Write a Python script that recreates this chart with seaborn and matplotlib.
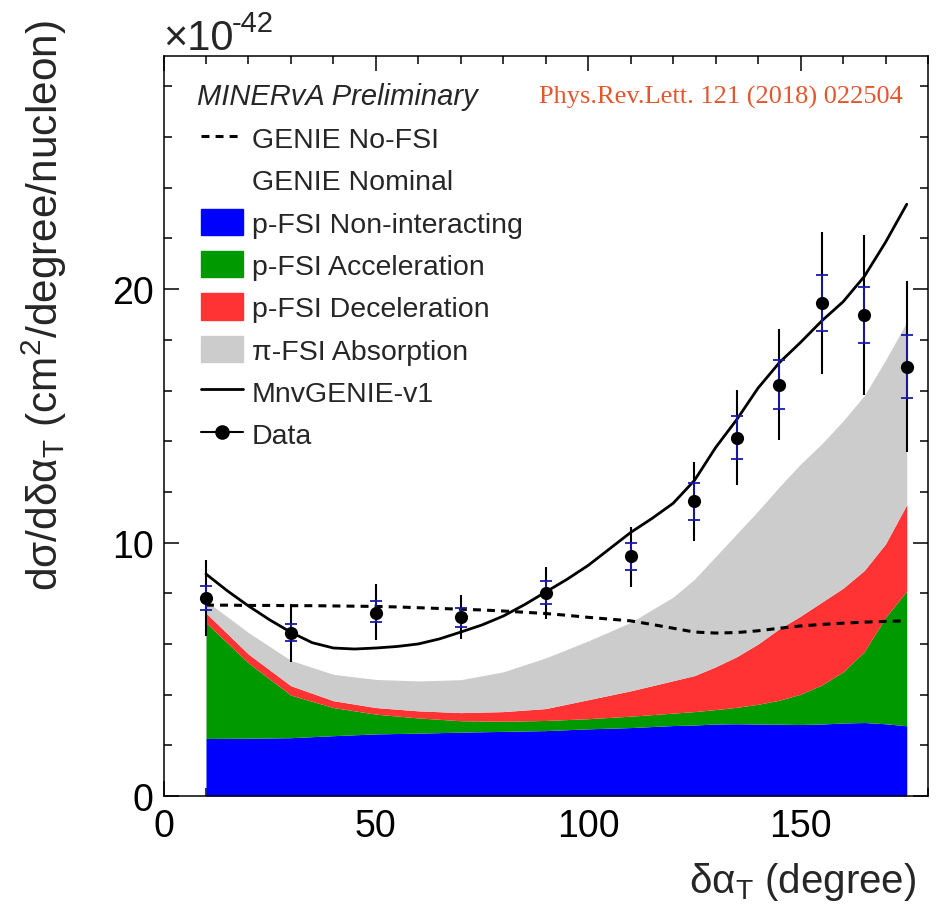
import numpy as np
import pandas as pd
import matplotlib
matplotlib.use("Agg")
import matplotlib.pyplot as plt
from matplotlib.patches import Patch
from matplotlib.lines import Line2D
from matplotlib.ticker import MultipleLocator
import seaborn as sns

# data points (units of 1e-42 cm2/degree/nucleon)
bin_x = [10, 30, 50, 70, 90, 110, 125, 135, 145, 155, 165, 175]
data_y = [7.81, 6.45, 7.24, 7.07, 8.01, 9.46, 11.63, 14.14, 16.22, 19.45, 18.98, 16.94]
stat_hi = [8.29, 6.79, 7.70, 7.43, 8.47, 9.98, 12.35, 14.99, 17.20, 20.55, 20.08, 18.19]
stat_lo = [7.34, 6.13, 6.87, 6.65, 7.57, 8.93, 10.89, 13.31, 15.27, 18.33, 17.89, 15.72]
tot_hi = [9.32, 7.57, 8.36, 7.93, 9.05, 10.63, 13.16, 16.02, 18.42, 22.26, 22.14, 20.32]
tot_lo = [6.31, 5.29, 6.17, 6.19, 6.98, 8.25, 10.06, 12.27, 14.04, 16.65, 15.82, 13.57]

# MnvGENIE-v1 and GENIE No-FSI curves
line_x = [10, 15, 20, 25, 30, 35, 40, 45, 50, 55, 60, 65, 70, 75, 80, 85, 90, 95, 100,
          105, 110, 115, 120, 125, 130, 135, 140, 145, 150, 155, 160, 165, 170, 175]
mnv_genie = [8.76, 8.10, 7.50, 6.95, 6.46, 6.05, 5.84, 5.80, 5.84, 5.90, 6.00, 6.20,
             6.47, 6.75, 7.10, 7.55, 8.05, 8.55, 9.10, 9.75, 10.40, 10.95, 11.55, 12.45,
             13.75, 14.86, 16.10, 17.10, 17.90, 18.75, 19.50, 20.50, 21.85, 23.35]
genie_nofsi = [7.53, 7.53, 7.52, 7.52, 7.51, 7.51, 7.50, 7.49, 7.48, 7.46, 7.43, 7.40,
               7.37, 7.34, 7.30, 7.25, 7.20, 7.13, 7.05, 6.98, 6.91, 6.77, 6.62, 6.47,
               6.43, 6.45, 6.52, 6.62, 6.71, 6.77, 6.82, 6.86, 6.89, 6.91]

# stacked components (cumulative tops)
fill_x = [10, 20, 30, 40, 50, 60, 70, 80, 90, 100, 110, 120, 125, 130, 135,
          140, 145, 150, 155, 160, 165, 170, 175]
nonint_top = [2.27, 2.28, 2.30, 2.38, 2.45, 2.48, 2.52, 2.55, 2.58, 2.65, 2.70, 2.78,
              2.80, 2.84, 2.85, 2.84, 2.83, 2.82, 2.84, 2.88, 2.90, 2.85, 2.77]
accel_top = [6.84, 5.25, 3.98, 3.49, 3.23, 3.08, 2.97, 2.95, 2.98, 3.05, 3.15, 3.27,
             3.33, 3.41, 3.50, 3.62, 3.78, 4.02, 4.38, 4.90, 5.70, 7.05, 8.09]
decel_top = [7.22, 5.60, 4.35, 3.76, 3.49, 3.36, 3.29, 3.33, 3.45, 3.80, 4.15, 4.55,
             4.75, 5.10, 5.50, 6.00, 6.60, 7.10, 7.65, 8.20, 8.90, 9.95, 11.50]
absorp_top = [7.70, 6.45, 5.35, 4.80, 4.60, 4.54, 4.59, 4.90, 5.45, 6.12, 6.85, 7.85,
              8.55, 9.45, 10.35, 11.25, 12.20, 13.10, 13.90, 14.80, 15.80, 17.20, 18.70]

sns.set_theme(style="ticks")
plt.rcParams['font.family'] = ['Liberation Sans', 'DejaVu Sans']
plt.rcParams['mathtext.fontset'] = 'custom'
plt.rcParams['mathtext.rm'] = 'Liberation Sans'
plt.rcParams['mathtext.it'] = 'Liberation Sans:italic'

fig = plt.figure(figsize=(9.36, 9.12), dpi=100)
ax = fig.add_axes([163.5 / 936, 1 - 797 / 912, (928 - 163.5) / 936, (797 - 57) / 912])

# stacked fills
ax.fill_between(fill_x, 0, nonint_top, color='#0000ff', lw=0, zorder=1)
ax.fill_between(fill_x, nonint_top, accel_top, color='#009900', lw=0, zorder=1)
ax.fill_between(fill_x, accel_top, decel_top, color='#ff3333', lw=0, zorder=1)
ax.fill_between(fill_x, decel_top, absorp_top, color='#cccccc', lw=0, zorder=1)

curves = pd.DataFrame({'x': line_x, 'mnv': mnv_genie, 'nofsi': genie_nofsi})
sns.lineplot(data=curves, x='x', y='nofsi', ax=ax, color='black', lw=2.2,
             linestyle=(0, (2.6, 2.0)), zorder=3)
sns.lineplot(data=curves, x='x', y='mnv', ax=ax, color='black', lw=2.0, zorder=4)

dy = np.array(data_y)
ax.errorbar(bin_x, dy, yerr=[dy - np.array(tot_lo), np.array(tot_hi) - dy],
            fmt='none', ecolor='black', elinewidth=1.5, capsize=0, zorder=5)
ax.errorbar(bin_x, dy, yerr=[dy - np.array(stat_lo), np.array(stat_hi) - dy],
            fmt='none', ecolor='#1a1aaa', elinewidth=1.3, capsize=4.5, capthick=1.3, zorder=6)
sns.scatterplot(x=bin_x, y=data_y, ax=ax, color='black', s=90, edgecolor='black',
                linewidth=0, zorder=7)

ax.set_xlim(0, 180)
ax.set_ylim(0, 29.2)
ax.xaxis.set_major_locator(MultipleLocator(50))
ax.xaxis.set_minor_locator(MultipleLocator(10))
ax.yaxis.set_major_locator(MultipleLocator(10))
ax.yaxis.set_minor_locator(MultipleLocator(2))
ax.tick_params(which='both', direction='in', top=True, right=True, width=1.1, colors='black')
ax.tick_params(which='major', length=11, labelsize=27)
ax.tick_params(which='minor', length=5.5)
ax.tick_params(axis='x', pad=9)
ax.tick_params(axis='y', pad=7)
for sp in ax.spines.values():
    sp.set_linewidth(1.1)
    sp.set_color('black')

ax.set_xlabel(r'δα$_{\mathrm{T}}$ (degree)', fontsize=29, ha='right', va='top')
ax.xaxis.set_label_coords((917 - 163.5) / 765, -0.086)
ax.set_ylabel(r'dσ/dδα$_{\mathrm{T}}$ (cm$^{\mathrm{2}}$/degree/nucleon)', fontsize=30.5,
              ha='right')
ax.yaxis.set_label_coords(-0.124, (797 - 20) / 740)

# axis multiplier
fig.text(163 / 936, 1 - 50 / 912, '×10', fontsize=30, va='baseline', ha='left')
fig.text(232 / 936, 1 - 32 / 912, '-42', fontsize=21, va='baseline', ha='left')

ax.text(0.044, (797 - 97) / 740, 'MINERvA Preliminary', transform=ax.transAxes,
        fontsize=21, style='italic', va='center', ha='left')
ax.text((903 - 163.5) / 765, (797 - 97) / 740, 'Phys.Rev.Lett. 121 (2018) 022504',
        transform=ax.transAxes, fontsize=19, family='Liberation Serif',
        color='#e4572e', va='center', ha='right')

handles = [
    Line2D([], [], color='black', lw=2.2, linestyle=(0, (2.6, 2.0))),
    Patch(facecolor='white', edgecolor='white'),
    Patch(facecolor='#0000ff', edgecolor='#0000ff'),
    Patch(facecolor='#009900', edgecolor='#009900'),
    Patch(facecolor='#ff3333', edgecolor='#ff3333'),
    Patch(facecolor='#cccccc', edgecolor='#cccccc'),
    Line2D([], [], color='black', lw=2.0),
    Line2D([], [], color='black', lw=1.5, marker='o', markersize=9.5),
]
labels = ['GENIE No-FSI', 'GENIE Nominal', 'p-FSI Non-interacting', 'p-FSI Acceleration',
          'p-FSI Deceleration', 'π-FSI Absorption', 'MnvGENIE-v1', 'Data']
ax.legend(handles, labels, loc='upper left', bbox_to_anchor=(0.049, 0.908),
          frameon=False, fontsize=20.5, borderpad=0, borderaxespad=0,
          handlelength=1.47, handleheight=1.05, labelspacing=0.47, handletextpad=0.32)

fig.savefig('out.png', dpi=100)
